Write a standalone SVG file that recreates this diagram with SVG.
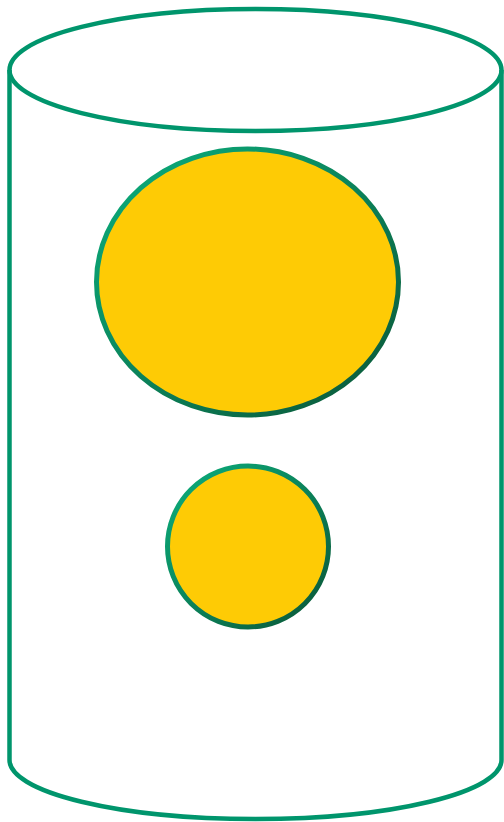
<svg xmlns="http://www.w3.org/2000/svg" width="504" height="822" viewBox="0 0 504 822">
<defs>
<linearGradient id="rim" x1="0" y1="0" x2="1" y2="1">
<stop offset="0" stop-color="#0bb07e"/>
<stop offset="1" stop-color="#0b5536"/>
</linearGradient>
<style>
.cyl{fill:none;stroke:#00956c;stroke-width:4.5}
.ball{fill:#fecb05;stroke:url(#rim);stroke-width:5}
</style>
</defs>
<g id="cylinder">
<path class="cyl" d="M9.5,70 L9.5,760 A246,59 0 0 0 501.5,760 L501.5,70"/>
<ellipse class="cyl" cx="255.5" cy="70" rx="246" ry="61"/>
</g>
<g id="large-ball">
<ellipse class="ball" cx="247.5" cy="282" rx="151" ry="133"/>
</g>
<g id="small-ball">
<circle class="ball" cx="248" cy="546.5" r="80.5"/>
</g>
</svg>
